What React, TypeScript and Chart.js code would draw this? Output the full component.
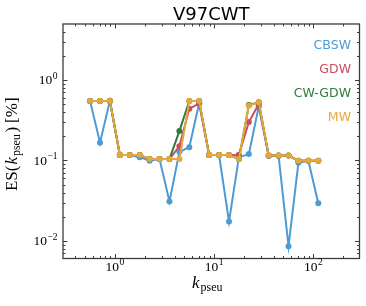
import React, { useEffect, useRef } from "react";
import { Chart, registerables } from "chart.js";

Chart.register(...registerables);

// ---- data ----
const kValues = [0.562, 0.708, 0.891, 1.122, 1.413, 1.778, 2.239, 2.818, 3.548, 4.467, 5.623, 7.079, 8.913, 11.22, 14.13, 17.78, 22.39, 28.18, 35.48, 44.67, 56.23, 70.79, 89.13, 112.2];
const cbswValues = [0.55, 0.166, 0.55, 0.117, 0.117, 0.11, 0.099, 0.104, 0.031, 0.128, 0.146, 0.52, 0.117, 0.117, 0.0174, 0.11, 0.12, 0.47, 0.114, 0.114, 0.0086, 0.094, 0.0995, 0.0295];
const gdwValues = [0.55, 0.55, 0.55, 0.117, 0.117, 0.117, 0.104, 0.104, 0.104, 0.15, 0.44, 0.51, 0.117, 0.117, 0.117, 0.118, 0.3, 0.5, 0.115, 0.115, 0.115, 0.0995, 0.0995, 0.0995];
const cwgdwValues = [0.55, 0.55, 0.55, 0.117, 0.117, 0.117, 0.104, 0.104, 0.104, 0.232, 0.55, 0.55, 0.117, 0.117, 0.117, 0.104, 0.49, 0.53, 0.115, 0.115, 0.115, 0.0995, 0.0995, 0.0995];
const mwValues = [0.55, 0.55, 0.55, 0.117, 0.117, 0.117, 0.104, 0.104, 0.104, 0.104, 0.55, 0.55, 0.117, 0.117, 0.117, 0.104, 0.48, 0.53, 0.115, 0.115, 0.115, 0.0995, 0.0995, 0.0995];

const seriesNames = ["CBSW", "GDW", "CW-GDW", "MW"];
const seriesColors = ["#4c9bd5", "#cc4c5f", "#2e7d3a", "#e8a73c"];

const xMajorTicks = [1, 10, 100];
const xMajorExponents = ["0", "1", "2"];
const yMajorTicks = [0.01, 0.1, 1];
const yMajorExponents = ["\u22122", "\u22121", "0"];
const minorMultipliers = [2, 3, 4, 5, 6, 7, 8, 9];
const decades = [0.001, 0.01, 0.1, 1, 10, 100, 1000];

const titleText = "V97CWT";

const X_MIN = 0.313;
const X_MAX = 292;
const Y_MIN = 0.00606;
const Y_MAX = 4.96;

const SERIF = '"Liberation Serif", "DejaVu Serif", serif';
const SANS = '"DejaVu Sans", sans-serif';

function drawPow(ctx: CanvasRenderingContext2D, exp: string, x: number, y: number, align: "center" | "right") {
  ctx.textAlign = "left";
  ctx.textBaseline = "alphabetic";
  const baseFont = "13.5px " + SERIF;
  const expFont = "9.5px " + SERIF;
  ctx.font = baseFont;
  const wb = ctx.measureText("10").width;
  ctx.font = expFont;
  const we = ctx.measureText(exp).width;
  const total = wb + we + 0.5;
  const sx = align === "center" ? x - total / 2 : x - total;
  ctx.font = baseFont;
  ctx.fillText("10", sx, y);
  ctx.font = expFont;
  ctx.fillText(exp, sx + wb + 0.5, y - 5.8);
}

const decorPlugin = {
  id: "decor",
  afterDraw(chart: any) {
    const ctx: CanvasRenderingContext2D = chart.ctx;
    const { left, right, top, bottom } = chart.chartArea;
    const xs = chart.scales.x;
    const ys = chart.scales.y;
    ctx.save();
    ctx.strokeStyle = "#3c3c3c";
    ctx.fillStyle = "#111";

    // ticks (inward, all four sides)
    ctx.lineWidth = 1;
    for (const d of decades) {
      for (const m of [1, ...minorMultipliers]) {
        const v = m * d;
        const len = m === 1 ? 4.5 : 2.5;
        if (v >= X_MIN && v <= X_MAX) {
          const px = Math.round(xs.getPixelForValue(v)) + 0.5;
          ctx.beginPath();
          ctx.moveTo(px, bottom);
          ctx.lineTo(px, bottom - len);
          ctx.moveTo(px, top);
          ctx.lineTo(px, top + len);
          ctx.stroke();
        }
        if (v >= Y_MIN && v <= Y_MAX) {
          const py = Math.round(ys.getPixelForValue(v)) + 0.5;
          ctx.beginPath();
          ctx.moveTo(left, py);
          ctx.lineTo(left + len, py);
          ctx.moveTo(right, py);
          ctx.lineTo(right - len, py);
          ctx.stroke();
        }
      }
    }

    // frame
    ctx.lineWidth = 1.3;
    ctx.strokeRect(left, top, right - left, bottom - top);

    // tick labels
    ctx.fillStyle = "#000";
    xMajorTicks.forEach((v, i) => {
      const px = xs.getPixelForValue(v);
      drawPow(ctx, xMajorExponents[i], px, bottom + 12.5, "center");
    });
    yMajorTicks.forEach((v, i) => {
      const py = ys.getPixelForValue(v);
      drawPow(ctx, yMajorExponents[i], left - 5.5, py + 4.5, "right");
    });

    // x axis title: k_pseu
    {
      ctx.textAlign = "left";
      ctx.textBaseline = "alphabetic";
      const kFont = "italic 17px " + SERIF;
      const subFont = "12px " + SERIF;
      ctx.font = kFont;
      const wk = ctx.measureText("k").width;
      ctx.font = subFont;
      const ws = ctx.measureText("pseu").width;
      const total = wk + 1 + ws;
      const cx = (left + right) / 2 - 4;
      const sx = cx - total / 2;
      const by = bottom + 29;
      ctx.font = kFont;
      ctx.fillText("k", sx, by);
      ctx.font = subFont;
      ctx.fillText("pseu", sx + wk + 1, by + 3);
    }

    // y axis title: ES(k_pseu) [%]
    {
      ctx.save();
      const cyc = (top + bottom) / 2 + 3;
      ctx.translate(17, cyc);
      ctx.rotate(-Math.PI / 2);
      ctx.textAlign = "left";
      ctx.textBaseline = "alphabetic";
      const mainFont = "17px " + SERIF;
      const kFont = "italic 17px " + SERIF;
      const subFont = "12px " + SERIF;
      const parts: [string, string, number, number][] = [
        ["ES(", mainFont, 0, 1],
        ["k", kFont, 0, 1],
        ["pseu", subFont, 3, 1.5],
        [")", mainFont, 0, 4],
        ["[%]", mainFont, 0, 0],
      ];
      let total = 0;
      const widths: number[] = [];
      for (const p of parts) {
        ctx.font = p[1];
        const w = ctx.measureText(p[0]).width;
        widths.push(w);
        total += w + p[3];
      }
      let x = -total / 2;
      parts.forEach((p, i) => {
        ctx.font = p[1];
        ctx.fillText(p[0], x, p[2]);
        x += widths[i] + p[3];
      });
      ctx.restore();
    }

    // title
    ctx.font = "18px " + SANS;
    ctx.textAlign = "center";
    ctx.textBaseline = "alphabetic";
    ctx.fillStyle = "#000";
    ctx.fillText(titleText, (left + right) / 2, 20);

    // legend texts
    ctx.font = "12.5px " + SANS;
    ctx.textAlign = "right";
    const baselines = [49, 72.5, 96.5, 121];
    seriesNames.forEach((n, i) => {
      ctx.fillStyle = seriesColors[i];
      ctx.fillText(n, right - 8.5, baselines[i]);
    });

    ctx.restore();
  },
};

export default function App() {
  const ref = useRef<HTMLCanvasElement>(null);
  useEffect(() => {
    if (!ref.current) return;
    const valueSets = [cbswValues, gdwValues, cwgdwValues, mwValues];
    const chart = new Chart(ref.current, {
      type: "line",
      data: {
        datasets: valueSets.map((vals, i) => ({
          label: seriesNames[i],
          data: kValues.map((k, j) => ({ x: k, y: vals[j] })),
          borderColor: seriesColors[i],
          backgroundColor: seriesColors[i],
          pointBackgroundColor: seriesColors[i],
          pointBorderColor: seriesColors[i],
          pointRadius: 3,
          pointBorderWidth: 0,
          borderWidth: 2,
          tension: 0,
          fill: false,
          order: 4 - i,
        })),
      },
      options: {
        responsive: false,
        maintainAspectRatio: false,
        animation: false,
        devicePixelRatio: 1,
        layout: { padding: { top: 24, right: 6.5, left: 0, bottom: 0 } },
        plugins: {
          legend: { display: false },
          title: { display: false },
          tooltip: { enabled: false },
        },
        scales: {
          x: {
            type: "logarithmic",
            min: X_MIN,
            max: X_MAX,
            ticks: { display: false },
            grid: { display: false },
            border: { display: false },
            afterFit: (s: any) => {
              s.height = 47.5;
            },
          },
          y: {
            type: "logarithmic",
            min: Y_MIN,
            max: Y_MAX,
            ticks: { display: false },
            grid: { display: false },
            border: { display: false },
            afterFit: (s: any) => {
              s.width = 63;
            },
          },
        },
      },
      plugins: [decorPlugin],
    } as any);
    return () => chart.destroy();
  }, []);
  return (
    <div style={{ position: "absolute", left: 0, top: 0, width: 366, height: 306, background: "#fff" }}>
      <canvas ref={ref} width={366} height={306} style={{ display: "block", width: 366, height: 306 }} />
    </div>
  );
}
